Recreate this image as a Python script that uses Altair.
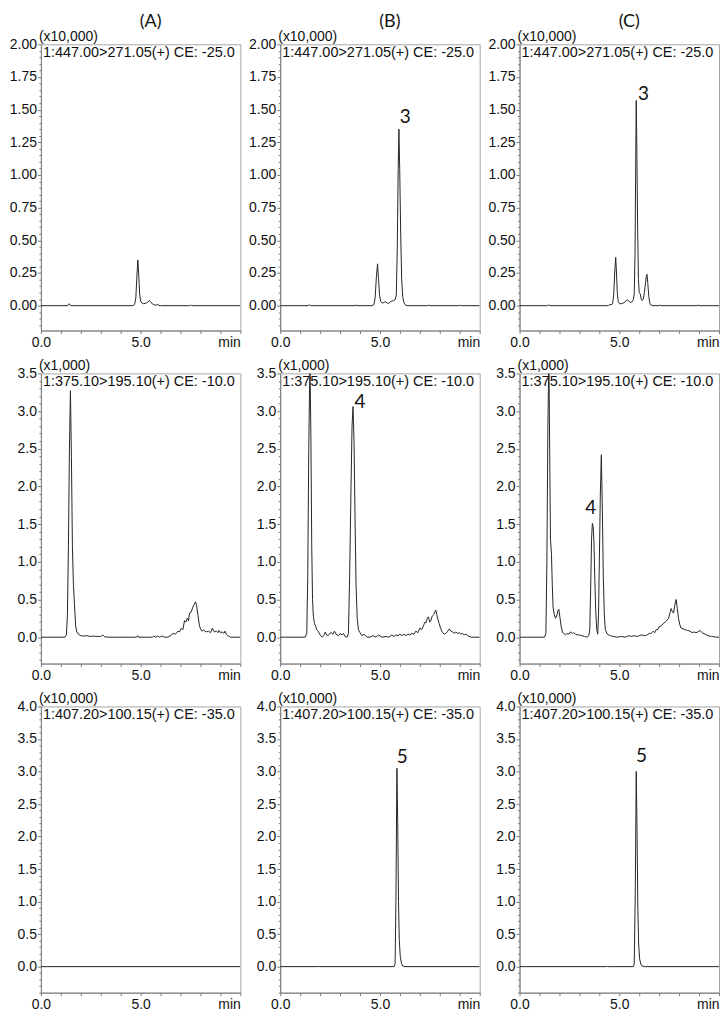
import math
import altair as alt
import pandas as pd

# ---------------- text / axis data ----------------
col_titles = ["(A)", "(B)", "(C)"]
row_headers = ["1:447.00>271.05(+) CE: -25.0",
               "1:375.10>195.10(+) CE: -10.0",
               "1:407.20>100.15(+) CE: -35.0"]
row_units = ["(x10,000)", "(x1,000)", "(x10,000)"]
row_ymin = [-0.19, -0.35, -0.4]
row_ymax = [2.0, 3.5, 4.0]
row_major = [0.25, 0.5, 0.5]
row_minor = [0.05, 0.1, 0.1]
row_fmt = [".2f", ".1f", ".1f"]
x_ticks = [0, 1, 2, 3, 4, 5, 6, 7, 8, 9, 10]
x_unit = "min"

# ---------------- traces ----------------
a1_t = [0.0, 1.35, 1.42, 1.5, 4.62, 4.7, 4.76, 4.81, 4.86, 4.9, 4.95, 5.0, 5.06, 5.15, 5.25, 5.35,
        5.43, 5.5, 5.6, 5.7, 5.78, 5.83, 5.9, 6.0, 7.45, 7.5, 7.55, 10.0]
a1_y = [0.0, 0.0, 0.015, 0.0, 0.0, 0.01, 0.06, 0.22, 0.35, 0.25, 0.09, 0.035, 0.02, 0.015, 0.018, 0.025,
        0.04, 0.03, 0.012, 0.006, 0.004, 0.01, 0.003, 0.0, 0.0, 0.005, 0.0, 0.0]

b1_t = [0.0, 1.4, 1.46, 1.52, 3.75, 3.8, 3.85, 4.6, 4.7, 4.76, 4.82, 4.88, 4.93, 4.98, 5.04, 5.12,
        5.2, 5.28, 5.36, 5.44, 5.52, 5.6, 5.68, 5.76, 5.82, 5.87, 5.91, 5.95, 5.99, 6.04, 6.09, 6.14,
        6.2, 6.26, 6.35, 7.4, 7.45, 7.5, 8.95, 9.0, 9.05, 10.0]
b1_y = [0.0, 0.0, 0.008, 0.0, 0.0, 0.006, 0.0, 0.0, 0.01, 0.06, 0.22, 0.32, 0.2, 0.08, 0.03, 0.02,
        0.025, 0.03, 0.02, 0.018, 0.03, 0.035, 0.04, 0.045, 0.08, 0.45, 1.0, 1.35, 1.05, 0.55, 0.2, 0.07,
        0.025, 0.008, 0.0, 0.0, 0.005, 0.0, 0.0, 0.005, 0.0, 0.0]

c1_t = [0.0, 1.4, 1.46, 1.52, 4.45, 4.53, 4.6, 4.67, 4.72, 4.77, 4.82, 4.86, 4.9, 4.95, 5.02, 5.1,
        5.2, 5.3, 5.4, 5.48, 5.56, 5.64, 5.7, 5.75, 5.79, 5.82, 5.85, 5.88, 5.92, 5.96, 6.0, 6.05,
        6.1, 6.15, 6.2, 6.26, 6.32, 6.36, 6.39, 6.43, 6.48, 6.53, 6.58, 6.65, 7.0, 7.05, 7.1, 8.9,
        8.95, 9.0, 10.0]
c1_y = [0.0, 0.0, 0.006, 0.0, 0.0, 0.01, 0.005, 0.02, 0.08, 0.25, 0.37, 0.25, 0.1, 0.03, 0.015, 0.015,
        0.02, 0.03, 0.045, 0.035, 0.025, 0.03, 0.045, 0.09, 0.4, 1.0, 1.57, 1.2, 0.6, 0.2, 0.1, 0.09,
        0.05, 0.04, 0.05, 0.1, 0.18, 0.23, 0.24, 0.17, 0.07, 0.02, 0.006, 0.0, 0.0, 0.006, 0.0, 0.0,
        0.005, 0.0, 0.0]

a2_t = [0.0, 1.2, 1.28, 1.33, 1.38, 1.43, 1.48, 1.53, 1.58, 1.63, 1.68, 1.74, 1.8, 1.88, 2.0, 2.15,
        2.3, 2.45, 2.6, 2.8, 3.0, 3.1, 3.2, 3.4, 3.8, 4.4, 4.8, 4.85, 4.9, 5.2, 5.6, 5.65, 5.75, 5.85,
        5.95, 6.05, 6.2, 6.35, 6.5, 6.63, 6.75, 6.87, 6.95, 7.04, 7.12, 7.2, 7.27, 7.34, 7.4, 7.45,
        7.53, 7.62, 7.7, 7.75, 7.8, 7.87, 7.95, 8.02, 8.08, 8.15, 8.22, 8.3, 8.4, 8.5, 8.6, 8.66,
        8.72, 8.8, 8.87, 8.93, 9.0, 9.1, 9.17, 9.23, 9.3, 9.38, 9.5, 10.0]
a2_y = [0.0, 0.0, 0.03, 0.3, 1.2, 2.5, 3.27, 2.4, 1.2, 0.7, 0.45, 0.15, 0.07, 0.04, 0.02, 0.015,
        0.02, 0.01, 0.015, 0.01, 0.01, 0.03, 0.005, 0.0, 0.0, 0.0, 0.0, 0.02, 0.0, 0.0, 0.0, 0.015,
        0.0, 0.015, 0.0, 0.015, 0.0, 0.0, 0.02, 0.05, 0.04, 0.08, 0.07, 0.12, 0.1, 0.22, 0.2, 0.25,
        0.22, 0.32, 0.33, 0.4, 0.44, 0.47, 0.43, 0.3, 0.15, 0.1, 0.08, 0.1, 0.08, 0.07, 0.08, 0.06,
        0.12, 0.08, 0.07, 0.08, 0.06, 0.09, 0.06, 0.07, 0.05, 0.08, 0.04, 0.02, 0.0, 0.0]

b2_t = [0.0, 1.25, 1.33, 1.38, 1.43, 1.49, 1.54, 1.58, 1.62, 1.66, 1.72, 1.77, 1.83, 1.9, 2.0, 2.1,
        2.18, 2.26, 2.33, 2.4, 2.48, 2.56, 2.64, 2.72, 2.8, 2.92, 3.0, 3.1, 3.17, 3.25, 3.35, 3.42,
        3.48, 3.55, 3.6, 3.65, 3.7, 3.75, 3.8, 3.86, 3.92, 4.0, 4.1, 4.2, 4.35, 4.5, 4.65, 4.8, 4.92,
        5.1, 5.3, 5.45, 5.6, 5.7, 5.8, 5.9, 6.0, 6.1, 6.2, 6.3, 6.4, 6.5, 6.6, 6.7, 6.8, 6.9, 7.0,
        7.09, 7.18, 7.25, 7.31, 7.37, 7.43, 7.5, 7.55, 7.62, 7.7, 7.76, 7.8, 7.85, 7.9, 7.97, 8.04,
        8.1, 8.15, 8.22, 8.3, 8.4, 8.48, 8.56, 8.65, 8.72, 8.81, 8.9, 8.98, 9.06, 9.14, 9.22, 9.31,
        9.4, 9.56, 10.0]
b2_y = [0.0, 0.0, 0.05, 0.8, 2.5, 3.7, 2.6, 1.2, 0.5, 0.28, 0.18, 0.15, 0.1, 0.08, 0.03, 0.0,
        0.02, 0.07, 0.03, 0.02, 0.05, 0.06, 0.04, 0.08, 0.04, 0.02, 0.05, 0.03, 0.05, 0.01, 0.0, 0.05,
        0.8, 2.0, 2.8, 3.06, 2.6, 1.6, 0.7, 0.25, 0.1, 0.06, 0.02, 0.04, 0.0, 0.0, 0.02, 0.0, 0.03,
        0.0, 0.01, 0.0, 0.03, 0.01, 0.03, 0.02, 0.04, 0.02, 0.04, 0.02, 0.04, 0.03, 0.05, 0.04, 0.08,
        0.06, 0.12, 0.1, 0.15, 0.2, 0.19, 0.25, 0.27, 0.2, 0.22, 0.28, 0.3, 0.34, 0.36, 0.3, 0.24,
        0.18, 0.12, 0.08, 0.06, 0.04, 0.05, 0.08, 0.11, 0.08, 0.07, 0.05, 0.07, 0.05, 0.06, 0.04, 0.05,
        0.03, 0.04, 0.02, 0.0, 0.0]

c2_t = [0.0, 1.25, 1.32, 1.37, 1.42, 1.47, 1.51, 1.55, 1.6, 1.64, 1.68, 1.74, 1.8, 1.86, 1.92, 1.97,
        2.03, 2.1, 2.16, 2.22, 2.3, 2.38, 2.47, 2.55, 2.65, 2.72, 2.8, 2.9, 3.0, 3.13, 3.25, 3.38,
        3.47, 3.52, 3.57, 3.61, 3.65, 3.69, 3.73, 3.77, 3.82, 3.87, 3.92, 3.96, 4.0, 4.05, 4.1, 4.15,
        4.2, 4.25, 4.3, 4.4, 4.55, 4.7, 4.9, 5.1, 5.3, 5.47, 5.6, 5.75, 5.9, 6.0, 6.13, 6.25, 6.4,
        6.5, 6.6, 6.7, 6.78, 6.85, 6.93, 7.0, 7.1, 7.2, 7.3, 7.38, 7.47, 7.55, 7.6, 7.66, 7.72, 7.78,
        7.85, 7.91, 7.97, 8.03, 8.1, 8.2, 8.3, 8.42, 8.55, 8.65, 8.75, 8.85, 8.95, 9.05, 9.15, 9.3,
        9.45, 9.63, 9.88, 10.0]
c2_y = [0.0, 0.0, 0.05, 1.0, 2.8, 3.7, 2.5, 1.3, 1.1, 0.7, 0.4, 0.3, 0.25, 0.28, 0.35, 0.37,
        0.25, 0.12, 0.06, 0.05, 0.03, 0.05, 0.04, 0.07, 0.05, 0.06, 0.04, 0.03, 0.03, 0.02, 0.01, 0.0,
        0.02, 0.1, 0.7, 1.3, 1.51, 1.47, 1.25, 0.8, 0.35, 0.1, 0.04, 0.3, 1.0, 1.9, 2.42, 1.7,
        0.8, 0.3, 0.1, 0.04, 0.02, 0.01, 0.0, 0.01, 0.0, 0.02, 0.01, 0.02, 0.01, 0.02, 0.03, 0.02, 0.03,
        0.05, 0.05, 0.08, 0.06, 0.1, 0.1, 0.14, 0.15, 0.18, 0.2, 0.22, 0.25, 0.33, 0.38, 0.34, 0.32, 0.42,
        0.5, 0.38, 0.25, 0.17, 0.12, 0.11, 0.1, 0.09, 0.08, 0.06, 0.07, 0.06, 0.07, 0.09, 0.06, 0.04,
        0.02, 0.01, 0.0, 0.0]

a3_t = [0.0, 10.0]
a3_y = [0.0, 0.0]

b3_t = [0.0, 1.8, 1.85, 1.9, 5.72, 5.76, 5.8, 5.85, 5.89, 5.93, 5.97, 6.02, 6.08, 6.14, 6.25, 10.0]
b3_y = [0.0, 0.0, 0.005, 0.0, 0.0, 0.05, 1.0, 3.05, 2.2, 1.0, 0.4, 0.15, 0.05, 0.01, 0.0, 0.0]

c3_t = [0.0, 4.35, 4.4, 4.45, 5.71, 5.75, 5.8, 5.85, 5.89, 5.93, 5.97, 6.02, 6.08, 6.14, 6.25, 10.0]
c3_y = [0.0, 0.0, 0.005, 0.0, 0.0, 0.05, 1.1, 3.0, 2.1, 0.9, 0.35, 0.12, 0.04, 0.01, 0.0, 0.0]

traces = [[(a1_t, a1_y), (b1_t, b1_y), (c1_t, c1_y)],
          [(a2_t, a2_y), (b2_t, b2_y), (c2_t, c2_y)],
          [(a3_t, a3_y), (b3_t, b3_y), (c3_t, c3_y)]]

# peak annotations
peak_row = [0, 0, 1, 1, 2, 2]
peak_col = [1, 2, 1, 2, 1, 2]
peak_text = ["3", "3", "4", "4", "5", "5"]
peak_t = [6.27, 6.21, 4.0, 3.57, 6.12, 6.11]
peak_y = [1.44, 1.62, 3.12, 1.71, 3.22, 3.24]

# ---------------- styling ----------------
PANEL_W = 200
ROW_H = [287, 291, 287]
TICK_FONT = "Liberation Sans"
TITLE_FONT = "Lato"
INK = "#111111"


def text_layer(s, x, y, size, font, align, baseline):
    return alt.Chart(pd.DataFrame({"s": [s]})).mark_text(
        font=font, fontSize=size, align=align, baseline=baseline, color=INK
    ).encode(text="s:N", x=alt.value(x), y=alt.value(y))


def make_panel(r, c):
    t, y = traces[r][c]
    df = pd.DataFrame({"t": t, "y": y})
    xs = alt.Scale(domain=[0, 10], nice=False, zero=False)
    ys = alt.Scale(domain=[row_ymin[r], row_ymax[r]], nice=False, zero=False)
    k = int(round(1 / row_major[r]))
    major = f"abs(datum.value*{k} - round(datum.value*{k})) < 0.001"
    lo = int(math.ceil(row_ymin[r] / row_minor[r] - 1e-9))
    hi = int(round(row_ymax[r] / row_minor[r]))
    yvals = [round(i * row_minor[r], 4) for i in range(lo, hi + 1)]
    yaxis = alt.Axis(
        values=yvals, title=None, grid=False, labelOverlap=False,
        labelExpr=f"({major}) && datum.value > -0.001 ? format(datum.value, '{row_fmt[r]}') : ''",
        tickSize={"condition": {"test": major, "value": 3.5}, "value": 2},
        labelPadding=1,
    )
    xaxis = alt.Axis(
        values=x_ticks, title=None, grid=False, labelOverlap=False, labelFlush=False,
        labelExpr=f"datum.value == 10 ? '{x_unit}' : (datum.value == 0 || datum.value == 5) ? format(datum.value, '.1f') : ''",
        labelAlign={"condition": {"test": "datum.value == 10", "value": "right"}, "value": "center"},
        tickSize=3, labelPadding=2,
    )
    X = alt.X("t:Q", scale=xs, axis=xaxis)
    Y = alt.Y("y:Q", scale=ys, axis=yaxis)
    layers = [
        alt.Chart(df).mark_line(color="#262626", strokeWidth=1, clip=True).encode(x=X, y=Y),
        text_layer(row_units[r], -2, -3, 14, TICK_FONT, "left", "alphabetic"),
        text_layer(row_headers[r], 2, 1.5, 14.5, TICK_FONT, "left", "top"),
    ]
    pk = [i for i in range(len(peak_text)) if peak_row[i] == r and peak_col[i] == c]
    if pk:
        pdf = pd.DataFrame({"t": [peak_t[i] for i in pk], "y": [peak_y[i] for i in pk],
                            "s": [peak_text[i] for i in pk]})
        layers.append(alt.Chart(pdf).mark_text(font=TITLE_FONT, fontSize=19, align="center",
                                               baseline="middle", color=INK)
                      .encode(x=X, y=Y, text="s:N"))
    if r == 0:
        layers.append(text_layer(col_titles[c], PANEL_W / 2 + 10, -17, 18, TITLE_FONT, "center", "alphabetic"))
    return alt.layer(*layers).properties(width=PANEL_W, height=ROW_H[r])


panels = [make_panel(r, c) for r in range(3) for c in range(3)]

chart = alt.concat(
    *panels, columns=3, spacing={"row": 43, "column": 40}, bounds="flush", align="each"
).properties(
    padding={"top": 3, "left": 0, "right": 0, "bottom": 0}, background="white"
).configure_view(
    stroke="#a6a6a6", strokeWidth=1
).configure_axis(
    domainColor="#7a7a7a", tickColor="#7a7a7a", labelColor=INK,
    labelFont=TICK_FONT, labelFontSize=14,
)

chart.save("out.html", embed_options={"renderer": "svg", "actions": False})
